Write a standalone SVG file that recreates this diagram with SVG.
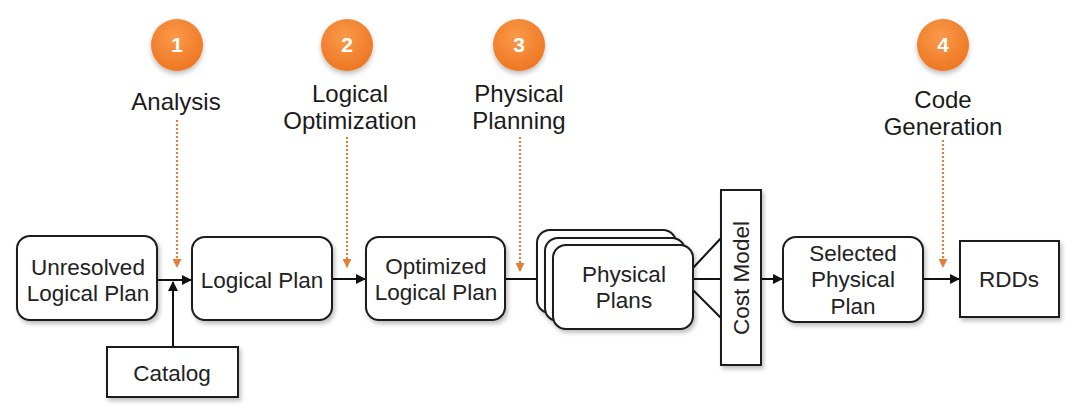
<svg xmlns="http://www.w3.org/2000/svg" width="1078" height="412" viewBox="0 0 1078 412">
<style>
.box{fill:#fff;stroke:#1a1a1a;stroke-width:2;filter:url(#sh)}
.t{font-family:"Liberation Sans",Arial,sans-serif;font-size:22.5px;fill:#222;text-anchor:middle}
.lbl{font-family:"Liberation Sans",Arial,sans-serif;font-size:24px;fill:#1a1a1a;text-anchor:middle}
.num{font-family:"Liberation Sans",Arial,sans-serif;font-size:21px;font-weight:bold;fill:#fff;text-anchor:middle}
.con{stroke:#111;stroke-width:2;fill:none}
.dot{stroke:#E0803A;stroke-width:2.2;stroke-dasharray:2 2;fill:none}
.circ{fill:url(#og);filter:url(#sh2)}
</style>
<defs>
<filter id="sh" x="-10%" y="-10%" width="125%" height="130%"><feDropShadow dx="2" dy="3" stdDeviation="2" flood-color="#000" flood-opacity="0.25"/></filter>
<filter id="sh2" x="-30%" y="-30%" width="160%" height="170%"><feDropShadow dx="0" dy="3" stdDeviation="2.5" flood-color="#000" flood-opacity="0.25"/></filter>
<radialGradient id="og" cx="0.45" cy="0.35" r="0.7"><stop offset="0" stop-color="#F99A4A"/><stop offset="1" stop-color="#EE7420"/></radialGradient>
<marker id="ah" markerWidth="10" markerHeight="10" refX="9" refY="5" orient="auto" markerUnits="userSpaceOnUse"><path d="M0,0 L10,5 L0,10 z" fill="#111"/></marker>
<marker id="oh" markerWidth="10" markerHeight="9" refX="9" refY="4.5" orient="auto" markerUnits="userSpaceOnUse"><path d="M0,0 L9,4.5 L0,9 z" fill="#E0803A"/></marker>
</defs>
<rect width="1078" height="412" fill="#fff"/>

<g id="connectors">
<line class="con" x1="157" y1="280" x2="191" y2="280" marker-end="url(#ah)"/>
<line class="con" x1="173" y1="347" x2="173" y2="282" marker-end="url(#ah)"/>
<line class="con" x1="332" y1="279" x2="365" y2="279" marker-end="url(#ah)"/>
<line class="con" x1="505" y1="279" x2="552" y2="279" marker-end="url(#ah)"/>
<line class="con" x1="693" y1="268" x2="722" y2="237"/>
<line class="con" x1="693" y1="279" x2="722" y2="279"/>
<line class="con" x1="693" y1="290" x2="722" y2="319"/>
<line class="con" x1="761" y1="279" x2="782" y2="279" marker-end="url(#ah)"/>
<line class="con" x1="923" y1="279" x2="959" y2="279" marker-end="url(#ah)"/>
<line class="dot" x1="177" y1="120" x2="177" y2="268" marker-end="url(#oh)"/>
<line class="dot" x1="347" y1="137" x2="347" y2="268" marker-end="url(#oh)"/>
<line class="dot" x1="520" y1="137" x2="520" y2="272" marker-end="url(#oh)"/>
<line class="dot" x1="943" y1="140" x2="943" y2="268" marker-end="url(#oh)"/>
</g>

<g id="step1"><circle class="circ" cx="177" cy="45" r="26"/><text class="num" x="177" y="52">1</text><text class="lbl" x="176" y="110">Analysis</text></g>
<g id="step2"><circle class="circ" cx="347" cy="45" r="26"/><text class="num" x="347" y="52">2</text><text class="lbl" x="350" y="102">Logical</text><text class="lbl" x="350" y="129">Optimization</text></g>
<g id="step3"><circle class="circ" cx="519" cy="45" r="26"/><text class="num" x="519" y="52">3</text><text class="lbl" x="519" y="102">Physical</text><text class="lbl" x="519" y="129">Planning</text></g>
<g id="step4"><circle class="circ" cx="943" cy="45" r="26"/><text class="num" x="943" y="52">4</text><text class="lbl" x="943" y="108">Code</text><text class="lbl" x="943" y="135">Generation</text></g>

<g id="unresolved"><rect class="box" x="17" y="236" width="140" height="84" rx="13"/><text class="t" x="88" y="275">Unresolved</text><text class="t" x="88" y="301">Logical Plan</text></g>
<g id="catalog"><rect class="box" x="107" y="347" width="131" height="50"/><text class="t" x="172" y="381">Catalog</text></g>
<g id="logical"><rect class="box" x="192" y="237" width="140" height="83" rx="13"/><text class="t" x="262" y="288">Logical Plan</text></g>
<g id="optimized"><rect class="box" x="366" y="237" width="139" height="83" rx="13"/><text class="t" x="436" y="274">Optimized</text><text class="t" x="436" y="300">Logical Plan</text></g>
<g id="physical">
<rect class="box" x="537" y="230" width="139" height="83" rx="13"/>
<rect class="box" x="545" y="238" width="140" height="83" rx="13"/>
<rect class="box" x="553" y="245" width="140" height="84" rx="13"/>
<text class="t" x="624" y="282">Physical</text><text class="t" x="624" y="308">Plans</text>
</g>
<g id="costmodel"><rect class="box" x="721" y="190" width="40" height="175"/><text class="t" transform="translate(749,278) rotate(-90)">Cost Model</text></g>
<g id="selected"><rect class="box" x="783" y="237" width="140" height="85" rx="13"/><text class="t" x="853" y="261">Selected</text><text class="t" x="853" y="287">Physical</text><text class="t" x="853" y="314">Plan</text></g>
<g id="rdds"><rect class="box" x="960" y="241" width="99" height="76"/><text class="t" x="1009" y="287">RDDs</text></g>
</svg>
